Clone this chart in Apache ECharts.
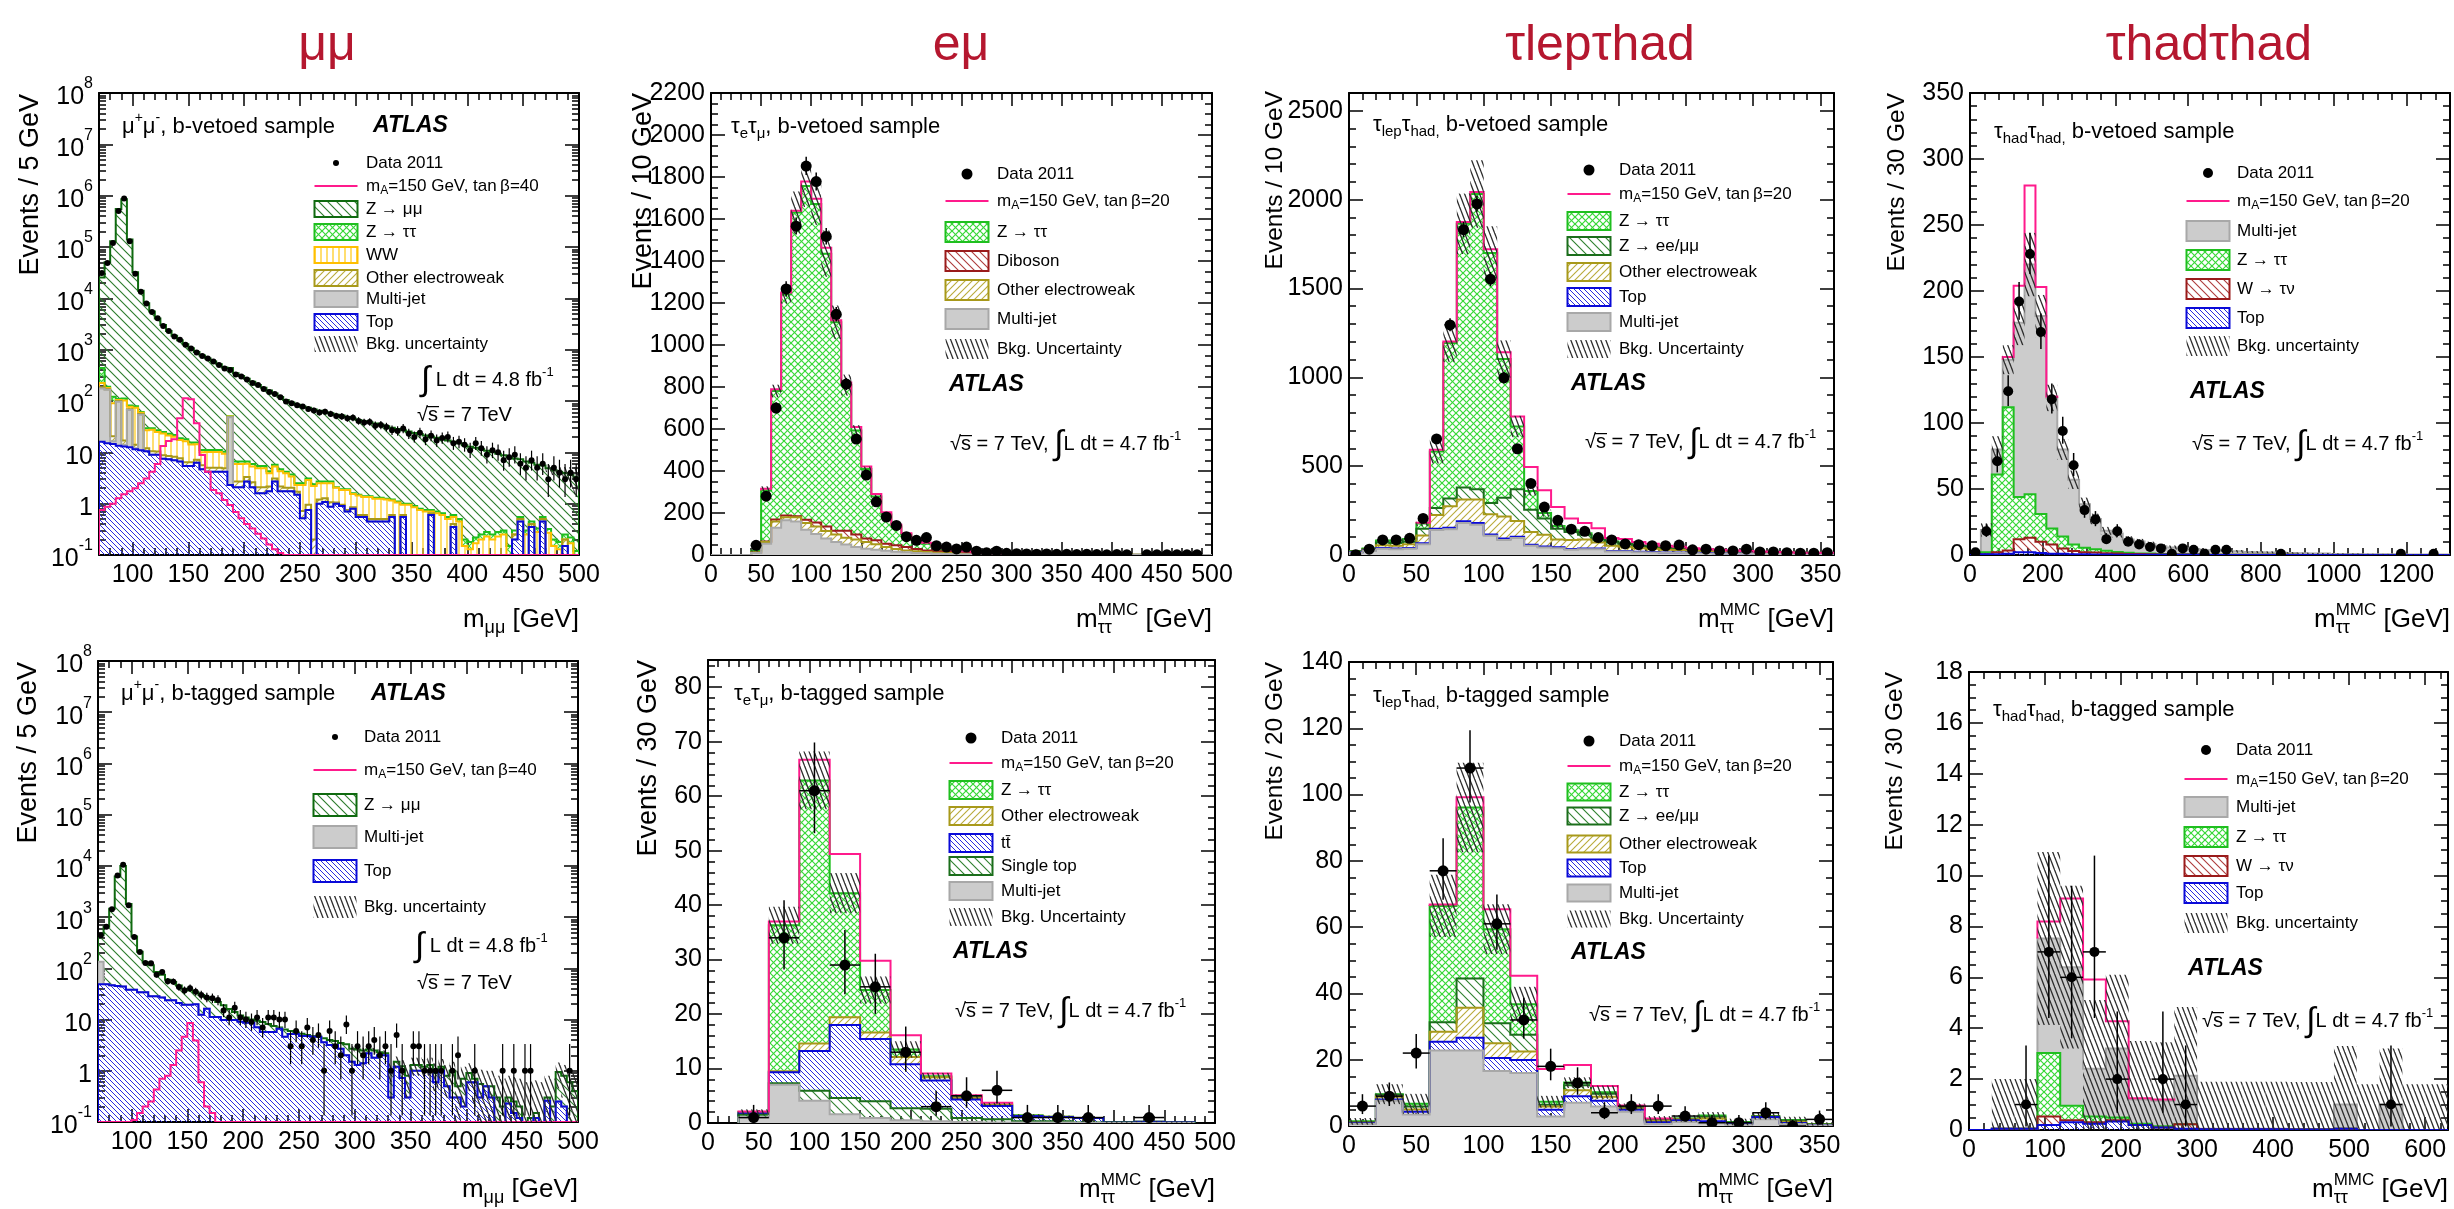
<!DOCTYPE html>
<html>
<head>
<meta charset="utf-8">
<script src="https://cdn.jsdelivr.net/npm/echarts@6/dist/echarts.min.js"></script>
<style>
  html, body { margin: 0; padding: 0; background: #ffffff; }
  #chart { width: 2454px; height: 1209px; }
</style>
</head>
<body>
<div id="chart"></div>
<script>
// ---------------------------------------------------------------------------
// Binning helpers
// ---------------------------------------------------------------------------
function binEdges(first, width, count) {
  const e = [];
  for (let i = 0; i <= count; i++) e.push(first + width * i);
  return e;
}

// ---------------------------------------------------------------------------
// Tick label values
// ---------------------------------------------------------------------------
const X_TICKS_MUMU = [100, 150, 200, 250, 300, 350, 400, 450, 500];
const Y_TICKS_LOG = [0.1, 1, 10, 100, 1e3, 1e4, 1e5, 1e6, 1e7, 1e8];
const X_TICKS_EMU = [0, 50, 100, 150, 200, 250, 300, 350, 400, 450, 500];
const Y_TICKS_EMU_BV = [0, 200, 400, 600, 800, 1000, 1200, 1400, 1600, 1800, 2000, 2200];
const Y_TICKS_EMU_BT = [0, 10, 20, 30, 40, 50, 60, 70, 80];
const X_TICKS_LH = [0, 50, 100, 150, 200, 250, 300, 350];
const Y_TICKS_LH_BV = [0, 500, 1000, 1500, 2000, 2500];
const Y_TICKS_LH_BT = [0, 20, 40, 60, 80, 100, 120, 140];
const X_TICKS_HH_BV = [0, 200, 400, 600, 800, 1000, 1200];
const Y_TICKS_HH_BV = [0, 50, 100, 150, 200, 250, 300, 350];
const X_TICKS_HH_BT = [0, 100, 200, 300, 400, 500, 600];
const Y_TICKS_HH_BT = [0, 2, 4, 6, 8, 10, 12, 14, 16, 18];

// ---------------------------------------------------------------------------
// mu mu, b-vetoed  (5 GeV bins, 70-500 GeV)
// ---------------------------------------------------------------------------
const MUMU_EDGES = binEdges(70, 5, 86);
const MUMU_BV_ZMM = [
  25000, 50000, 130000, 550000, 850000, 140000, 32000, 14000, 8000, 5500,
  4000, 3000, 2300, 1850, 1500, 1250, 1050, 890, 760, 660,
  580, 510, 440, 390, 340, 300, 265, 230, 200, 175,
  155, 135, 115, 100, 90, 82, 76, 71, 66, 62,
  58, 55, 52, 50, 47, 44, 41, 39, 37, 35,
  33, 31, 29, 27.5, 26, 24.5, 23, 22, 20.5, 19.5,
  18.5, 17.5, 16.5, 15.5, 14.5, 13.5, 12.7, 12, 11.2, 10.5,
  9.8, 9.1, 8.5, 7.9, 7.3, 6.8, 6.3, 5.8, 5.4, 5.0,
  4.6, 4.3, 4.0, 3.7, 3.4, 3.2];
const MUMU_BV_ZTT = [
  215, 10, 30, 5, 10, 5, 5, 2, 2.5, 2,
  2, 1.8, 1.7, 1.6, 1.5, 1.4, 1.3, 1.2, 1.1, 1.0,
  1.0, 1.0, 0.9, 0.8, 0.7, 0.7, 0.6, 0.6, 0.5, 0.5,
  0.4, 0.4, 0.4, 0.3, 0.3, 0.2, 0.2, 0.2, 0.2, 0.2,
  0.2, 0.2, 0.05, 0.05, 0.05, 0.05, 0.05, 0.05, 0.05, 0.05,
  0.05, 0.05, 0.05, 0.05, 0.05, 0.05, 0.05, 0.05, 0.05, 0.05,
  0.05, 0.05, 0.05, 0.05, 0.05, 0.05, 0.05, 0.05, 0.05, 0.05,
  0.05, 0.05, 0.05, 0.05, 0.05, 0.05, 0.05, 0.05, 0.05, 0.05,
  0.05, 0.05, 0.05, 0.05, 0.05, 0.05];
const MUMU_BV_WW = [
  39, 10, 70, 5, 85, 8, 60, 3, 15, 17,
  14.6, 14.4, 12.8, 12, 9.6, 10.1, 7.8, 7.1, 4.4, 5.1,
  5.1, 5.1, 4.5, 1, 3.2, 3.2, 2.7, 2.7, 2.8, 2.8,
  1.75, 2.2, 2.15, 1.85, 1.35, 0.6, 1.58, 1.95, 2.0, 1.3,
  1.22, 1.43, 1.0, 0.9, 1.1, 0.7, 0.85, 0.75, 0.85, 0.75,
  0.75, 0.7, 0.55, 1.0, 0.35, 0.9, 0.8, 0.7, 0.65, 0.05,
  0.6, 0.55, 0.45, 0.15, 0.4, 0.1, 0.08, 0.12, 0.15, 0.18,
  0.15, 0.18, 0.2, 0.05, 0, 0, 0.2, 0, 0.23, 0,
  0.22, 0.1, 0.08, 0, 0.12, 0.02];
const MUMU_BV_OEW = [
  10, 5, 4, 3, 3, 2, 2, 2, 1.5, 1.5,
  1.4, 1.3, 1.2, 1.2, 1.1, 1.0, 1.0, 0.9, 0.9, 0.8,
  0.8, 0.8, 0.7, 0.7, 0.6, 0.6, 0.6, 0.5, 0.5, 0.5,
  0.4, 0.4, 0.4, 0.3, 0.3, 0.2, 0.2, 0.2, 0.2, 0.2,
  0.2, 0.2, 0.05, 0.05, 0.05, 0.05, 0.05, 0.05, 0.05, 0.05,
  0.05, 0.05, 0.05, 0.05, 0.05, 0.05, 0.05, 0.05, 0.05, 0.05,
  0.05, 0.05, 0.05, 0.05, 0.05, 0.05, 0.05, 0.05, 0.05, 0.05,
  0.05, 0.05, 0.05, 0.05, 0.05, 0.05, 0.05, 0.05, 0.05, 0.05,
  0.05, 0.05, 0.05, 0.05, 0.05, 0.05];
const MUMU_BV_MJ = [
  160, 150, 2, 83, 1, 54.5, 0.5, 43, 0, 0,
  0, 0, 0, 0, 0, 0, 0, 0, 0, 0,
  0, 0, 0, 45.7, 0, 0, 0, 0, 0, 0,
  0, 0, 0, 0, 0, 0, 0, 0, 0, 0,
  0, 0, 0, 0, 0, 0, 0, 0, 0, 0,
  0, 0, 0, 0, 0, 0, 0, 0, 0, 0,
  0, 0, 0, 0, 0, 0, 0, 0, 0, 0,
  0, 0, 0, 0, 0, 0, 0, 0, 0, 0,
  0, 0, 0, 0, 0, 0];
const MUMU_BV_TOP = [
  16, 15, 14.5, 13.5, 13, 12.5, 11.5, 11, 10.5, 9,
  9, 7.5, 7.3, 7, 6.6, 5.4, 5.4, 6.3, 4.7, 4.2,
  4.2, 4.2, 4.2, 2.3, 2.1, 2.1, 2.7, 2.1, 1.6, 1.6,
  1.75, 2.7, 1.75, 1.75, 1.75, 1.5, 0.52, 0.75, 0, 1.0,
  1.08, 0.87, 1.0, 0.9, 0.7, 0.8, 0.55, 0.55, 0.45, 0.45,
  0.45, 0.45, 0.55, 0, 0.55, 0, 0, 0, 0, 0.6,
  0, 0, 0, 0.35, 0, 0, 0, 0, 0, 0,
  0, 0, 0, 0, 0.2, 0.45, 0, 0.35, 0, 0.45,
  0, 0, 0, 0.15, 0, 0];
const MUMU_BV_SIG = [
  0.75, 0.87, 1.0, 1.27, 1.52, 1.75, 2.0, 2.5, 3.1, 4.2,
  5.9, 13.3, 16.7, 18, 46, 113, 108, 37, 8.9, 4.2,
  1.84, 1.6, 1.18, 0.94, 0.69, 0.52, 0.4, 0.33, 0.26, 0.21,
  0.16, 0.13, 0.11, 0, 0, 0, 0, 0, 0, 0,
  0, 0, 0, 0, 0, 0, 0, 0, 0, 0,
  0, 0, 0, 0, 0, 0, 0, 0, 0, 0,
  0, 0, 0, 0, 0, 0, 0, 0, 0, 0,
  0, 0, 0, 0, 0, 0, 0, 0, 0, 0,
  0, 0, 0, 0, 0, 0];
const MUMU_BV_UNC = [
  0, 0, 0, 0, 0, 0, 0, 0, 0, 0,
  0, 0, 0, 0, 0, 0, 0, 0, 0, 0,
  0, 0, 0, 0, 0, 0, 0, 0, 0, 0,
  0, 0, 0, 0, 0, 0, 0, 0, 0, 0,
  0, 0, 0, 0, 0, 0, 0, 0, 0, 0,
  0, 0, 0, 0, 0, 0, 0, 0, 0, 0,
  0, 0, 0, 0, 0, 0, 0, 0, 0, 0,
  0, 0, 0, 0, 0, 0, 0, 0, 0, 0,
  0.8, 0.9, 1.0, 1.2, 1.5, 1.8];
const MUMU_BV_DATA = [
  31000, 49000, 120000, 500000, 880000, 130000, 30000, 13500, 7900, 5400,
  4100, 2900, 2300, 1800, 1560, 1240, 1050, 880, 750, 670,
  590, 500, 430, 400, 330, 300, 262, 223, 205, 172,
  150, 137, 118, 98, 90, 83, 78, 70, 65, 60,
  62, 56, 51, 50, 46, 47, 41, 38, 39, 33,
  34, 31, 27, 26, 29, 23, 20, 24, 18, 21,
  17, 19, 20, 15, 16, 14, 11, 15, 12, 9,
  11, 10, 7, 8, 9, 6, 5, 7, 5, 6,
  3, 5, 4, 3, 4, 3];

// ---------------------------------------------------------------------------
// mu mu, b-tagged  (5 GeV bins, 70-500 GeV)
// ---------------------------------------------------------------------------
const MUMU_BT_ZMM = [
  306, 601, 1403, 6155, 9956, 1762, 382, 176, 96, 86.5,
  56.5, 48, 36.3, 30.3, 25, 20.5, 17.5, 14, 17.6, 10.7,
  13.8, 10.8, 9.2, 6.2, 4.2, 2.9, 2.3, 1.3, 2.4, 3.3,
  2.5, 1.8, 0.4, 1.8, 0.8, 0.4, 0.5, 0.2, 0.2, 0,
  0.7, 0.8, 0.6, 0.8, 1.3, 1.2, 1.3, 1.1, 0.4, 0.7,
  0.3, 0.2, 0.7, 0.3, 0.5, 0.5, 0.3, 0.3, 0.2, 0.3,
  0.3, 0.2, 0.3, 0.7, 0.2, 0.5, 0.3, 0.1, 0.25, 0,
  0.2, 0.3, 0.2, 0.07, 0.1, 0.08, 0.1, 0.12, 0.03, 0.1,
  0.04, 0.2, 0.7, 0.6, 0.6, 0.4];
const MUMU_BT_MJ = [
  85, 0, 0, 0, 0, 0, 0, 0, 0, 0,
  0, 0, 0, 0, 0, 0, 0, 0, 0, 0,
  0, 0, 0, 0, 0, 0, 0, 0, 0, 0,
  0, 0, 0, 0, 0, 0, 0, 0, 0, 0,
  0, 0, 0, 0, 0, 0, 0, 0, 0, 0,
  0, 0, 0, 0, 0, 0, 0, 0, 0, 0,
  0, 0, 0, 0, 0, 0, 0, 0, 0, 0,
  0, 0, 0, 0, 0, 0, 0, 0, 0, 0,
  0, 0, 0, 0, 0, 0];
const MUMU_BT_TOP = [
  49, 49, 47, 45, 44, 38, 38, 34, 34, 28.5,
  28.5, 27, 23.7, 23.7, 21, 19.5, 19.5, 20, 12.4, 16.3,
  11.2, 11.2, 9.8, 9.8, 9.8, 9.1, 8.7, 8.7, 7.1, 5.7,
  5.7, 5.7, 6.6, 4.6, 5.2, 5.2, 4.8, 4.8, 4.6, 4.6,
  3.6, 3.2, 3.2, 2.7, 2.0, 1.5, 1.3, 1.4, 2.2, 1.8,
  2.0, 2.0, 0.3, 1.2, 0.72, 0.3, 1.0, 1.0, 1.0, 1.0,
  0.6, 1.0, 0.5, 0.3, 0.3, 0.2, 0.6, 0.6, 0.3, 0.5,
  0.3, 0, 0, 0.23, 0.15, 0.12, 0, 0, 0.12, 0,
  0.26, 0, 0.25, 0.2, 0, 0];
const MUMU_BT_SIG = [
  0, 0, 0, 0, 0, 0, 0.11, 0.15, 0.2, 0.25,
  0.43, 0.7, 0.8, 1.3, 2.5, 4.6, 8.6, 3.9, 0.6, 0.2,
  0.15, 0, 0, 0, 0, 0, 0, 0, 0, 0,
  0, 0, 0, 0, 0, 0, 0, 0, 0, 0,
  0, 0, 0, 0, 0, 0, 0, 0, 0, 0,
  0, 0, 0, 0, 0, 0, 0, 0, 0, 0,
  0, 0, 0, 0, 0, 0, 0, 0, 0, 0,
  0, 0, 0, 0, 0, 0, 0, 0, 0, 0,
  0, 0, 0, 0, 0, 0];
const MUMU_BT_UNC = [
  0, 0, 0, 0, 0, 0, 0, 0, 0, 0,
  0, 0, 0, 0, 0, 0, 0, 0, 0, 0,
  0, 0, 0, 0, 0, 0, 0, 0, 0, 0,
  0, 0, 0, 0, 0, 0, 0, 0, 0, 0,
  0, 0, 0, 0, 0, 0.3, 0.3, 0.3, 0.3, 0.3,
  0.3, 0.3, 0.4, 0.4, 0.4, 0.5, 0.5, 0.5, 0.5, 0.5,
  0.5, 0.5, 0.5, 0.5, 0.5, 0.5, 0.5, 0.5, 0.5, 0.5,
  0.5, 0.5, 0.5, 0.5, 0.5, 0.5, 0.5, 0.5, 0.5, 0.5,
  0.5, 0.5, 0.5, 0.5, 0.5, 0.5];
const MUMU_BT_DATA = [
  442, 645, 1420, 6500, 10500, 1700, 408, 208, 127, 126,
  75, 85, 56, 55, 43, 37, 41, 35, 30, 27,
  26, 24, 15, 11, 17, 11, 10, 9, 11, 7,
  11, 11, 10, 10, 3, 6, 3, 7, 4, 5,
  1, 6, 3, 2, 8, 1, 3, 2, 3, 4,
  2, 3, 1, 5, 1, null, 3, 3, 1, 1,
  1, 1, null, 1, 2, null, null, 1, null, null,
  null, null, 1, null, 1, null, 1, 1, null, null,
  null, null, null, null, 1, null];

// ---------------------------------------------------------------------------
// e mu, b-vetoed  (10 GeV bins, 0-500 GeV)
// ---------------------------------------------------------------------------
const EMU_BV_EDGES = binEdges(0, 10, 50);
const EMU_BV_MJ = [
  0, 0, 0, 0, 10, 54, 130, 165, 160, 120,
  100, 78, 62, 50, 38, 30, 25, 20, 16, 13,
  10, 8, 6, 5, 4, 3, 3, 2, 2, 1.5,
  1.2, 1, 1, 0.8, 0.8, 0.6, 0.6, 0.5, 0.5, 0.4,
  0.4, 0.3, 0.3, 0.3, 0.2, 0.2, 0.2, 0.2, 0.1, 0.1];
const EMU_BV_OEW = [
  0, 0, 0, 0, 2, 8, 30, 15, 20, 32,
  36, 36, 36, 32, 36, 32, 26, 18, 13, 8,
  8, 6, 5, 4, 3, 3, 2, 2, 1.5, 1.2,
  1, 1, 0.8, 0.7, 0.6, 0.5, 0.5, 0.4, 0.4, 0.3,
  0.3, 0.3, 0.2, 0.2, 0.2, 0.2, 0.1, 0.1, 0.1, 0.1];
const EMU_BV_DIB = [
  0, 0, 0, 0, 0, 2, 9, 8, 5, 16,
  19, 22, 18, 34, 24, 16, 19, 16, 17, 17,
  11, 8, 7, 6, 5, 4, 3, 3, 2.5, 2,
  2, 1.5, 1.5, 1.2, 1, 1, 0.8, 0.8, 0.6, 0.6,
  0.5, 0.5, 0.4, 0.4, 0.3, 0.3, 0.3, 0.2, 0.2, 0.2];
const EMU_BV_ZTT = [
  0, 0, 0, 0, 8, 243, 612, 1054, 1446, 1589,
  1517, 1299, 992, 693, 495, 331, 208, 139, 90, 60,
  41, 32, 20, 14, 9, 6, 3, 2, 1, 1,
  0.5, 0.5, 0.4, 0.3, 0.2, 0.2, 0.1, 0.1, 0.1, 0.1,
  0, 0, 0, 0, 0, 0, 0, 0, 0, 0];
const EMU_BV_SIG = [
  0, 0, 0, 0, 0, 8, 8, 8, 8, 21,
  25, 28, 10, 13, 17, 13, 13, 11, 8, 6,
  5, 4, 3, 3, 2, 2, 1.5, 1, 1, 1,
  0, 0, 0, 0, 0, 0, 0, 0, 0, 0,
  0, 0, 0, 0, 0, 0, 0, 0, 0, 0];
const EMU_BV_UNC = [
  0, 0, 0, 0, 3, 20, 30, 45, 100, 100,
  100, 110, 80, 50, 25, 12, 8, 5, 4, 3,
  2, 2, 1, 1, 1, 1, 1, 0.5, 0.5, 0.5,
  0.5, 0.3, 0.3, 0.3, 0.3, 0.3, 0.2, 0.2, 0.2, 0.2,
  0.2, 0.2, 0.1, 0.1, 0.1, 0.1, 0.1, 0.1, 0.1, 0.1];
const EMU_BV_DATA = [
  null, null, null, null, 46, 280, 700, 1267, 1566, 1852,
  1778, 1517, 1146, 814, 552, 381, 253, 181, 141, 87,
  70, 83, 44, 38, 29, 38, 18, 11, 18, 8,
  6, 5, 4, 5, 3, 3, 2, 3, 2, 1,
  2, 1, null, 1, 1, 1, 1, 1, 1, null];

// ---------------------------------------------------------------------------
// e mu, b-tagged  (30 GeV bins from 30 GeV)
// ---------------------------------------------------------------------------
const EMU_BT_EDGES = binEdges(30, 30, 15);
const EMU_BT_MJ  = [1.0, 7.0, 4.1, 1.6, 0.9, 0.5, 0.3, 0.2, 0.1, 0.1, 0.1, 0, 0, 0, 0];
const EMU_BT_ST  = [0.5, 0.3, 1.8, 3.0, 3.1, 2.2, 2.3, 0.7, 0.6, 0.2, 0.2, 0.1, 0.1, 0.05, 0.05];
const EMU_BT_TT  = [0.3, 2.0, 7.3, 13.4, 11.4, 8.1, 5.2, 3.4, 2.4, 1.0, 0.8, 0.8, 0.05, 0.2, 0.1];
const EMU_BT_OEW = [0.1, 0.2, 1.4, 1.4, 1.2, 1.3, 0.6, 0.3, 0.2, 0.05, 0.05, 0, 0, 0, 0];
const EMU_BT_ZTT = [0.1, 26.8, 48.3, 22.8, 7.8, 1.4, 0.2, 0.2, 0.1, 0.05, 0, 0, 0, 0, 0];
const EMU_BT_SIG = [0.1, 0.7, 3.8, 7.2, 5.4, 2.6, 0.5, 0.3, 0.3, 0, 0, 0, 0, 0, 0];
const EMU_BT_UNC = [0.5, 3.4, 5.3, 3.7, 2.5, 1.5, 0.6, 0.4, 0.3, 0.2, 0.2, 0.1, 0.1, 0.1, 0.1];
const EMU_BT_DATA = [1, 34, 61, 29, 25, 13, 3, 5, 6, 1, 1, 1, null, 1, null];

// ---------------------------------------------------------------------------
// tau_lep tau_had, b-vetoed  (10 GeV bins, 0-360 GeV)
// ---------------------------------------------------------------------------
const LH_BV_EDGES = binEdges(0, 10, 36);
const LH_BV_MJ = [
  13, 22, 35, 32, 35, 60, 140, 145, 180, 170,
  108, 85, 95, 52, 42, 38, 30, 33, 33, 20,
  20, 15, 14, 12, 12, 10, 9, 8, 7, 7,
  6, 5, 5, 4, 4, 4];
const LH_BV_TOP = [
  2, 3, 5, 5, 5, 6, 8, 8, 10, 10,
  8, 8, 8, 6, 6, 5, 4, 4, 4, 3,
  3, 3, 3, 2, 2, 2, 2, 2, 1, 1,
  1, 1, 1, 1, 1, 1];
const LH_BV_OEW = [
  3, 5, 15, 15, 20, 44, 77, 121, 122, 132,
  113, 123, 88, 71, 66, 44, 51, 50, 34, 29,
  23, 20, 18, 16, 14, 12, 10, 9, 8, 7,
  6, 5, 5, 4, 4, 3];
const LH_BV_ZEE = [
  2, 4, 15, 15, 15, 38, 39, 44, 68, 58,
  64, 106, 179, 125, 92, 61, 44, 27, 16, 19,
  16, 12, 10, 9, 8, 6, 6, 5, 4, 4,
  3, 3, 3, 2, 2, 2];
const LH_BV_ZTT = [
  3, 3, 11, 14, 15, 29, 318, 875, 1484, 1662,
  1407, 781, 353, 106, 30, 15, 10, 8, 6, 5,
  4, 3, 3, 3, 2, 2, 2, 2, 2, 1,
  1, 1, 1, 1, 1, 1];
const LH_BV_SIG = [
  0, 0, 0, 0, 0, 5, 10, 8, 10, 11,
  20, 38, 57, 135, 128, 107, 67, 58, 57, 20,
  24, 20, 15, 10, 8, 6, 5, 3, 3, 2,
  2, 2, 1, 1, 1, 1];
const LH_BV_UNC = [
  2, 3, 8, 8, 8, 15, 67, 106, 170, 190,
  150, 105, 60, 25, 20, 15, 10, 8, 6, 5,
  4, 4, 3, 3, 3, 2, 2, 2, 2, 2,
  1, 1, 1, 1, 1, 1];
const LH_BV_DATA = [
  2, 33, 85, 85, 94, 206, 653, 1295, 1831, 1976,
  1552, 997, 598, 403, 270, 195, 145, 133, 98, 85,
  62, 58, 52, 52, 56, 29, 33, 23, 23, 33,
  17, 17, 13, 10, 10, 13];

// ---------------------------------------------------------------------------
// tau_lep tau_had, b-tagged  (20 GeV bins, 0-360 GeV)
// ---------------------------------------------------------------------------
const LH_BT_EDGES = binEdges(0, 20, 18);
const LH_BT_MJ  = [0.6, 7.6, 3.5, 22.8, 22.8, 16.6, 16.0, 2.9, 7.0, 5.9, 4.3, 0.6, 1.2, 0.8, 0.4, 2.0, 0.6, 0.2];
const LH_BT_TOP = [0.2, 0.4, 0.8, 2.6, 3.8, 3.9, 3.9, 2.0, 2.0, 1.7, 0.6, 0.5, 0.5, 0.6, 0.3, 0.7, 0.3, 0.1];
const LH_BT_OEW = [0.2, 0.8, 0.7, 3.0, 9.1, 4.5, 2.6, 1.0, 1.8, 1.2, 0.4, 0.4, 0.3, 0.9, 0.2, 0.1, 0.4, 0.1];
const LH_BT_ZEE = [0.2, 0.6, 0.9, 2.9, 8.8, 6.0, 5.0, 0.5, 1.5, 0.9, 0.4, 0.3, 0.2, 0.5, 0.1, 0.1, 0.3, 0.1];
const LH_BT_ZTT = [0.2, 0.2, 0.8, 35.1, 51.6, 28.4, 9.2, 0.9, 0.8, 0.5, 0.1, 0.2, 0.1, 0.4, 0.2, 0.1, 0.2, 0.1];
const LH_BT_SIG = [0, 0, 0, 0.4, 3.1, 6, 8.6, 9.9, 5.3, 1.9, 0.4, 0.3, 0, 0, 0, 0, 0, 0];
const LH_BT_UNC = [1, 3, 3, 9.4, 13.5, 7.5, 5.3, 1.8, 1.6, 2, 1, 1, 1, 1, 1, 1, 1, 0.5];
const LH_BT_DATA = [6, 9, 22, 77, 108, 61, 32, 18, 13, 4, 6, 6, 3, 1, 1, 4, 0, 2];

// ---------------------------------------------------------------------------
// tau_had tau_had, b-vetoed  (30 GeV bins, 0-1320 GeV)
// ---------------------------------------------------------------------------
const HH_BV_EDGES = binEdges(0, 30, 44);
const HH_BV_TOP = [
  0, 0.5, 0.5, 1, 2, 2, 1.5, 1, 1, 0.5,
  0.5, 0.3, 0.3, 0.2, 0.2, 0.2, 0.1, 0.1, 0.1, 0.1,
  0.1, 0.05, 0.05, 0.05, 0.05, 0.05, 0.05, 0.05, 0.05, 0.05,
  0.05, 0.05, 0.05, 0.05, 0.05, 0.05, 0.05, 0.05, 0.05, 0.05,
  0.05, 0.05, 0.05, 0.05];
const HH_BV_W = [
  0, 0, 1.5, 2.5, 10, 11, 8.5, 7, 4, 2.5,
  1.5, 1.5, 1, 1, 0.5, 0.5, 0.5, 0.3, 0.3, 0.2,
  0.2, 0.1, 0.1, 0.1, 0.1, 0.1, 0.05, 0.05, 0.05, 0.05,
  0, 0, 0, 0, 0, 0, 0, 0, 0, 0,
  0, 0, 0, 0];
const HH_BV_ZTT = [
  0, 1.5, 59, 108.5, 32, 33, 21, 12, 9, 5,
  3.5, 2.5, 2, 1, 1, 0.5, 0.5, 0.3, 0.3, 0.2,
  0.2, 0.1, 0.1, 0.1, 0.1, 0.05, 0.05, 0.05, 0.05, 0.05,
  0, 0, 0, 0, 0, 0, 0, 0, 0, 0,
  0, 0, 0, 0];
const HH_BV_MJ = [
  0, 17, 19, 36, 132, 174, 150, 99, 66, 49,
  33, 23, 15, 14, 10, 9, 7, 6, 5, 4.5,
  4, 3.5, 3, 3, 2.5, 2, 2, 1.8, 1.6, 1.4,
  1.2, 1, 1, 0.8, 0.8, 0.7, 0.6, 0.5, 0.5, 0.4,
  0.4, 0.3, 0.3, 0.3];
const HH_BV_SIG = [
  0, 0, 0, 2, 28, 60, 22, 1, 0, 0,
  0, 0, 0, 0, 0, 0, 0, 0, 0, 0,
  0, 0, 0, 0, 0, 0, 0, 0, 0, 0,
  0, 0, 0, 0, 0, 0, 0, 0, 0, 0,
  0, 0, 0, 0];
const HH_BV_UNC = [
  0, 5, 10, 11, 17, 24, 16, 10, 8, 7,
  5, 4, 3, 3, 2.5, 2, 2, 1.5, 1.5, 1.5,
  1.2, 1, 1, 1, 1, 0.8, 0.8, 0.8, 0.6, 0.6,
  0.5, 0.5, 0.5, 0.4, 0.4, 0.4, 0.3, 0.3, 0.3, 0.3,
  0.3, 0.2, 0.2, 0.2];
const HH_BV_DATA = [
  2, 18, 71, 124, 192, 228, 169, 118, 94, 68,
  34, 27, 12, 18, 10, 8, 6, 5, 1, 5,
  4, 1, 4, 4, null, null, null, null, 1, null,
  null, null, null, null, null, null, null, null, null, 1,
  null, null, 1, null];

// ---------------------------------------------------------------------------
// tau_had tau_had, b-tagged  (30 GeV bins, 0-630 GeV)
// ---------------------------------------------------------------------------
const HH_BT_EDGES = binEdges(0, 30, 21);
const HH_BT_TOP = [0, 0.05, 0.05, 0.2, 0.3, 0.25, 0.33, 0.2, 0.1, 0.05, 0.03, 0.03, 0.03, 0.03, 0.02, 0.02, 0.05, 0, 0, 0, 0];
const HH_BT_W   = [0, 0, 0, 0.33, 0.08, 0.05, 0.05, 0, 0, 0.18, 0, 0, 0, 0, 0, 0, 0, 0, 0, 0, 0];
const HH_BT_ZTT = [0, 0, 0, 2.5, 0.57, 0.23, 0.11, 0.05, 0.05, 0, 0, 0, 0, 0, 0, 0, 0, 0, 0, 0, 0];
const HH_BT_MJ  = [0, 0, 0, 4.5, 5.45, 1.88, 2.71, 0.95, 1.0, 1.9, 0.02, 0.02, 0.02, 0.02, 0.02, 0.02, 0.95, 0, 1.0, 0, 0];
const HH_BT_SIG = [0, 0, 0, 0.66, 2.7, 3.5, 1.07, 0.05, 0.05, 0, 0, 0, 0, 0, 0, 0, 0, 0, 0, 0, 0];
const HH_BT_UNC = [0, 1.95, 1.95, 3.4, 3.2, 2.7, 2.9, 2.3, 2.3, 2.7, 1.85, 1.85, 1.85, 1.85, 1.85, 1.85, 2.3, 1.8, 2.2, 1.8, 1.8];
const HH_BT_DATA = [null, null, 1, 7, 6, 7, 2, null, 2, 1, null, null, null, null, null, null, null, null, 1, null, null];

// ---------------------------------------------------------------------------
// Styling
// ---------------------------------------------------------------------------
const FONT = '"Liberation Sans", Arial, Helvetica, sans-serif';
const TITLE_COLOR = '#b5172f';
const SIG_COLOR = '#ff1a8c';

function hatch(kind, color, step, lw) {
  const c = document.createElement('canvas');
  const w = step, h = kind === 'steep' ? Math.round(step * 2.6) : step;
  c.width = w; c.height = h;
  const g = c.getContext('2d');
  g.strokeStyle = color; g.lineWidth = lw; g.lineCap = 'square';
  const seg = (x0, y0, x1, y1) => { g.beginPath(); g.moveTo(x0, y0); g.lineTo(x1, y1); g.stroke(); };
  if (kind === 'back' || kind === 'cross' || kind === 'steep') {
    for (let k = -1; k <= 1; k++) seg(k * w, 0, k * w + w, h);
  }
  if (kind === 'fwd' || kind === 'cross') {
    for (let k = -1; k <= 1; k++) seg(k * w, h, k * w + w, 0);
  }
  if (kind === 'vert') seg(w / 2, 0, w / 2, h);
  return { image: c, repeat: 'repeat' };
}

const STYLE = {
  zmm: { stroke: '#0f6a0f', fill: hatch('back', '#2a7a2a', 9, 1.1) },
  ztt: { stroke: '#1fbf1f', fill: hatch('cross', '#38d838', 7, 1.2) },
  ww:  { stroke: '#ffbf00', fill: hatch('vert', '#ffcc22', 6, 1.3) },
  oew: { stroke: '#a8991a', fill: hatch('fwd', '#b8aa3a', 7, 1.1) },
  mj:  { stroke: '#a8a8a8', fill: '#cccccc' },
  top: { stroke: '#0a0ad8', fill: hatch('back', '#2b2be0', 5, 1.0) },
  tt:  { stroke: '#0a0ad8', fill: hatch('back', '#2b2be0', 5, 1.0) },
  dib: { stroke: '#9a1b1b', fill: hatch('back', '#ad3a3a', 8, 1.1) },
  wtn: { stroke: '#9a1b1b', fill: hatch('back', '#ad3a3a', 8, 1.1) },
  st:  { stroke: '#1b6e1b', fill: hatch('back', '#2d7f2d', 9, 1.1) },
  zee: { stroke: '#1b6e1b', fill: hatch('back', '#2d7f2d', 9, 1.1) }
};
const UNC_FILL = hatch('steep', '#2a2a2a', 5, 1.3);

const LEGEND_LABELS = {
  data: ['Data 2011'],
  sig40: ['m', { t: 'A', sub: true }, '=150 GeV, tan\u2009\u03b2=40'],
  sig20: ['m', { t: 'A', sub: true }, '=150 GeV, tan\u2009\u03b2=20'],
  zmm: ['Z \u2192 \u03bc\u03bc'],
  ztt: ['Z \u2192 \u03c4\u03c4'],
  ww: ['WW'],
  oew: ['Other electroweak'],
  mj: ['Multi-jet'],
  top: ['Top'],
  dib: ['Diboson'],
  zee: ['Z \u2192 ee/\u03bc\u03bc'],
  wtn: ['W \u2192 \u03c4\u03bd'],
  tt: ['tt\u0304'],
  st: ['Single top'],
  uncL: ['Bkg. uncertainty'],
  uncU: ['Bkg. Uncertainty']
};

const SQRT_S = ['\u221a', { t: 's', over: true }, ' = 7 TeV'];
const SQRT_S_LUMI = ['\u221a', { t: 's', over: true }, ' = 7 TeV, ', { t: '\u222b', big: true }, 'L dt = 4.7 fb', { t: '-1', sup: true }];

// ---------------------------------------------------------------------------
// Panel definitions (layout + which arrays they draw)
// ---------------------------------------------------------------------------
const PANELS = [
  { grid: [99, 93, 480, 462],
    x: { min: 70, max: 500, major: X_TICKS_MUMU, minor: 10 },
    y: { log: true, min: 0.1, max: 1e8, major: Y_TICKS_LOG },
    edges: MUMU_EDGES,
    stack: [['top', MUMU_BV_TOP], ['mj', MUMU_BV_MJ], ['oew', MUMU_BV_OEW], ['ww', MUMU_BV_WW], ['ztt', MUMU_BV_ZTT], ['zmm', MUMU_BV_ZMM]],
    sig: MUMU_BV_SIG, sigStacked: false, unc: MUMU_BV_UNC, data: MUMU_BV_DATA,
    marker: 6, errW: 1.2, xerr: false,
    yTitle: { text: 'Events / 5 GeV', size: 27, x: 31, top: 94 },
    xTitle: 'mumu', xTitleY: 620,
    sample: { x: 122, y: 127, parts: ['\u03bc', { t: '+', sup: true }, '\u03bc', { t: '-', sup: true }, ', b-vetoed sample'] },
    atlas: { x: 373, y: 126 },
    lumi: [{ x: 421, y: 380, parts: [{ t: '\u222b', big: true }, ' L dt = 4.8 fb', { t: '-1', sup: true }] },
           { x: 417, y: 415, parts: SQRT_S }],
    legend: { cx: 336, tx: 366, sw: 43, sh: 16, rows: [163, 186, 209, 232, 255, 278, 299, 322, 344],
              items: ['data', 'sig40', 'zmm', 'ztt', 'ww', 'oew', 'mj', 'top', 'uncL'] } },

  { grid: [711, 93, 501, 462],
    x: { min: 0, max: 500, major: X_TICKS_EMU, minor: 10 },
    y: { log: false, min: 0, max: 2200, major: Y_TICKS_EMU_BV, minor: 50 },
    edges: EMU_BV_EDGES,
    stack: [['mj', EMU_BV_MJ], ['oew', EMU_BV_OEW], ['dib', EMU_BV_DIB], ['ztt', EMU_BV_ZTT]],
    sig: EMU_BV_SIG, sigStacked: true, unc: EMU_BV_UNC, data: EMU_BV_DATA,
    marker: 11, errW: 1.5, xerr: false,
    yTitle: { text: 'Events / 10 GeV', size: 27, x: 644, top: 93 },
    xTitle: 'mmc', xTitleY: 620,
    sample: { x: 731, y: 127, parts: ['\u03c4', { t: 'e', sub: true }, '\u03c4', { t: '\u03bc', sub: true }, ', b-vetoed sample'] },
    atlas: { x: 949, y: 385 },
    lumi: [{ x: 950, y: 444, parts: SQRT_S_LUMI }],
    legend: { cx: 967, tx: 997, sw: 43, sh: 20, rows: [174, 201, 232, 261, 290, 319, 349],
              items: ['data', 'sig20', 'ztt', 'dib', 'oew', 'mj', 'uncU'] } },

  { grid: [1349, 93, 485, 462],
    x: { min: 0, max: 360, major: X_TICKS_LH, minor: 10 },
    y: { log: false, min: 0, max: 2600, major: Y_TICKS_LH_BV, minor: 100 },
    edges: LH_BV_EDGES,
    stack: [['mj', LH_BV_MJ], ['top', LH_BV_TOP], ['oew', LH_BV_OEW], ['zee', LH_BV_ZEE], ['ztt', LH_BV_ZTT]],
    sig: LH_BV_SIG, sigStacked: true, unc: LH_BV_UNC, data: LH_BV_DATA,
    marker: 11, errW: 1.5, xerr: false,
    yTitle: { text: 'Events / 10 GeV', size: 24.5, x: 1275, top: 91 },
    xTitle: 'mmc', xTitleY: 620,
    sample: { x: 1373, y: 125, parts: ['\u03c4', { t: 'lep', sub: true }, '\u03c4', { t: 'had', sub: true }, { t: ',', sub: true }, ' b-vetoed sample'] },
    atlas: { x: 1571, y: 384 },
    lumi: [{ x: 1585, y: 442, parts: SQRT_S_LUMI }],
    legend: { cx: 1589, tx: 1619, sw: 43, sh: 18, rows: [170, 194, 221, 246, 272, 297, 322, 349],
              items: ['data', 'sig20', 'ztt', 'zee', 'oew', 'top', 'mj', 'uncU'] } },

  { grid: [1970, 93, 480, 462],
    x: { min: 0, max: 1320, major: X_TICKS_HH_BV, minor: 40 },
    y: { log: false, min: 0, max: 350, major: Y_TICKS_HH_BV, minor: 10 },
    edges: HH_BV_EDGES,
    stack: [['top', HH_BV_TOP], ['wtn', HH_BV_W], ['ztt', HH_BV_ZTT], ['mj', HH_BV_MJ]],
    sig: HH_BV_SIG, sigStacked: true, unc: HH_BV_UNC, data: HH_BV_DATA,
    marker: 10, errW: 1.5, xerr: false,
    yTitle: { text: 'Events / 30 GeV', size: 24.5, x: 1897, top: 93 },
    xTitle: 'mmc', xTitleY: 620,
    sample: { x: 1994, y: 132, parts: ['\u03c4', { t: 'had', sub: true }, '\u03c4', { t: 'had', sub: true }, { t: ',', sub: true }, ' b-vetoed sample'] },
    atlas: { x: 2190, y: 392 },
    lumi: [{ x: 2192, y: 444, parts: SQRT_S_LUMI }],
    legend: { cx: 2208, tx: 2237, sw: 43, sh: 20, rows: [173, 201, 231, 260, 289, 318, 346],
              items: ['data', 'sig20', 'mj', 'ztt', 'wtn', 'top', 'uncL'] } },

  { grid: [98, 661, 480, 461],
    x: { min: 70, max: 500, major: X_TICKS_MUMU, minor: 10 },
    y: { log: true, min: 0.1, max: 1e8, major: Y_TICKS_LOG },
    edges: MUMU_EDGES,
    stack: [['top', MUMU_BT_TOP], ['mj', MUMU_BT_MJ], ['zmm', MUMU_BT_ZMM]],
    sig: MUMU_BT_SIG, sigStacked: false, unc: MUMU_BT_UNC, data: MUMU_BT_DATA,
    marker: 6, errW: 1.2, xerr: false,
    yTitle: { text: 'Events / 5 GeV', size: 27, x: 29, top: 662 },
    xTitle: 'mumu', xTitleY: 1190,
    sample: { x: 121, y: 694, parts: ['\u03bc', { t: '+', sup: true }, '\u03bc', { t: '-', sup: true }, ', b-tagged sample'] },
    atlas: { x: 371, y: 694 },
    lumi: [{ x: 415, y: 946, parts: [{ t: '\u222b', big: true }, ' L dt = 4.8 fb', { t: '-1', sup: true }] },
           { x: 417, y: 983, parts: SQRT_S }],
    legend: { cx: 335, tx: 364, sw: 43, sh: 22, rows: [737, 770, 805, 837, 871, 907],
              items: ['data', 'sig40', 'zmm', 'mj', 'top', 'uncL'] } },

  { grid: [708, 660, 507, 463],
    x: { min: 0, max: 500, major: X_TICKS_EMU, minor: 10 },
    y: { log: false, min: 0, max: 85, major: Y_TICKS_EMU_BT, minor: 2 },
    edges: EMU_BT_EDGES,
    stack: [['mj', EMU_BT_MJ], ['st', EMU_BT_ST], ['tt', EMU_BT_TT], ['oew', EMU_BT_OEW], ['ztt', EMU_BT_ZTT]],
    sig: EMU_BT_SIG, sigStacked: true, unc: EMU_BT_UNC, data: EMU_BT_DATA,
    marker: 11, errW: 1.5, xerr: true,
    yTitle: { text: 'Events / 30 GeV', size: 27, x: 649, top: 660 },
    xTitle: 'mmc', xTitleY: 1190,
    sample: { x: 734, y: 694, parts: ['\u03c4', { t: 'e', sub: true }, '\u03c4', { t: '\u03bc', sub: true }, ', b-tagged sample'] },
    atlas: { x: 953, y: 952 },
    lumi: [{ x: 955, y: 1011, parts: SQRT_S_LUMI }],
    legend: { cx: 971, tx: 1001, sw: 43, sh: 18, rows: [738, 763, 790, 816, 843, 866, 891, 917],
              items: ['data', 'sig20', 'ztt', 'oew', 'tt', 'st', 'mj', 'uncU'] } },

  { grid: [1349, 662, 484, 464],
    x: { min: 0, max: 360, major: X_TICKS_LH, minor: 10 },
    y: { log: false, min: 0, max: 140, major: Y_TICKS_LH_BT, minor: 5 },
    edges: LH_BT_EDGES,
    stack: [['mj', LH_BT_MJ], ['top', LH_BT_TOP], ['oew', LH_BT_OEW], ['zee', LH_BT_ZEE], ['ztt', LH_BT_ZTT]],
    sig: LH_BT_SIG, sigStacked: true, unc: LH_BT_UNC, data: LH_BT_DATA,
    marker: 11, errW: 1.5, xerr: true,
    yTitle: { text: 'Events / 20 GeV', size: 24.5, x: 1275, top: 662 },
    xTitle: 'mmc', xTitleY: 1190,
    sample: { x: 1373, y: 696, parts: ['\u03c4', { t: 'lep', sub: true }, '\u03c4', { t: 'had', sub: true }, { t: ',', sub: true }, ' b-tagged sample'] },
    atlas: { x: 1571, y: 953 },
    lumi: [{ x: 1589, y: 1015, parts: SQRT_S_LUMI }],
    legend: { cx: 1589, tx: 1619, sw: 43, sh: 17, rows: [741, 766, 792, 816, 844, 868, 893, 919],
              items: ['data', 'sig20', 'ztt', 'zee', 'oew', 'top', 'mj', 'uncU'] } },

  { grid: [1969, 672, 479, 458],
    x: { min: 0, max: 630, major: X_TICKS_HH_BT, minor: 20 },
    y: { log: false, min: 0, max: 18, major: Y_TICKS_HH_BT, minor: 0.5 },
    edges: HH_BT_EDGES,
    stack: [['top', HH_BT_TOP], ['wtn', HH_BT_W], ['ztt', HH_BT_ZTT], ['mj', HH_BT_MJ]],
    sig: HH_BT_SIG, sigStacked: true, unc: HH_BT_UNC, data: HH_BT_DATA,
    marker: 10, errW: 1.5, xerr: true,
    yTitle: { text: 'Events / 30 GeV', size: 24.5, x: 1895, top: 672 },
    xTitle: 'mmc', xTitleY: 1190,
    sample: { x: 1993, y: 710, parts: ['\u03c4', { t: 'had', sub: true }, '\u03c4', { t: 'had', sub: true }, { t: ',', sub: true }, ' b-tagged sample'] },
    atlas: { x: 2188, y: 969 },
    lumi: [{ x: 2202, y: 1021, parts: SQRT_S_LUMI }],
    legend: { cx: 2206, tx: 2236, sw: 43, sh: 20, rows: [750, 779, 807, 837, 866, 893, 923],
              items: ['data', 'sig20', 'mj', 'ztt', 'wtn', 'top', 'uncL'] } }
];

const CHANNEL_TITLES = [
  { text: '\u03bc\u03bc', x: 327 },
  { text: 'e\u03bc', x: 961 },
  { text: '\u03c4lep\u03c4had', x: 1600 },
  { text: '\u03c4had\u03c4had', x: 2209 }
];

// ---------------------------------------------------------------------------
// Text helpers (mixed sub/superscript runs)
// ---------------------------------------------------------------------------
const measureCtx = document.createElement('canvas').getContext('2d');
function fontStr(size, bold, italic) {
  return (italic ? 'italic ' : 'normal ') + (bold ? 'bold ' : 'normal ') + size + 'px ' + FONT;
}
function textW(t, font) { measureCtx.font = font; return measureCtx.measureText(t).width; }

function runs(x, y, parts, S, opt) {
  opt = opt || {};
  const items = [], bars = [];
  let cx = 0, held = 0;
  parts.forEach(p => {
    if (typeof p === 'string') p = { t: p };
    let size = S, dy = 0;
    if (p.sub) { size = Math.round(S * 0.68); dy = S * 0.3; }
    if (p.sup) { size = Math.round(S * 0.65); dy = -S * 0.38; }
    if (p.big) { size = Math.round(S * 1.7); dy = S * 0.05; }
    const font = fontStr(size, opt.bold, opt.italic);
    const w = textW(p.t, font);
    items.push({ t: p.t, font: font, x: cx, dy: dy });
    if (p.over) bars.push({ x1: cx - 1, x2: cx + w + 1, y: dy - S * 0.42 });
    if (p.hold) held = Math.max(held, w);
    else { cx += Math.max(w, held); held = 0; }
  });
  const x0 = opt.align === 'right' ? x - cx : (opt.align === 'center' ? x - cx / 2 : x);
  const kids = items.map(it => ({
    type: 'text', x: it.x, y: it.dy,
    style: { text: it.t, font: it.font, fill: opt.fill || '#000',
             textAlign: 'left', textVerticalAlign: 'middle', align: 'left', verticalAlign: 'middle' }
  }));
  bars.forEach(b => kids.push({ type: 'line', shape: { x1: b.x1, y1: b.y, x2: b.x2, y2: b.y },
                                style: { stroke: opt.fill || '#000', lineWidth: Math.max(1, S / 16) } }));
  return { type: 'group', x: x0, y: y, silent: true, children: kids };
}

// ---------------------------------------------------------------------------
// Axes
// ---------------------------------------------------------------------------
function minorLinear(a) {
  const out = [];
  const n = Math.round((a.max - a.min) / a.minor);
  for (let k = 0; k <= n; k++) out.push(+(a.min + k * a.minor).toFixed(6));
  return out;
}
function minorLog(a) {
  const out = [];
  for (let d = Math.round(Math.log10(a.min)); d < Math.round(Math.log10(a.max)); d++) {
    for (let k = 2; k <= 9; k++) out.push(+(k * Math.pow(10, d)).toPrecision(6));
  }
  return out;
}
function mkAxis(a, gi, pos, ticks, len, showLine, label) {
  return {
    type: a.log ? 'log' : 'value', logBase: 10, gridIndex: gi, position: pos,
    min: a.min, max: a.max,
    axisLine: { show: showLine, onZero: false, lineStyle: { color: '#000', width: 2 } },
    axisTick: { show: true, inside: true, length: len, customValues: ticks, lineStyle: { color: '#000', width: 1.5 } },
    axisLabel: label || { show: false },
    splitLine: { show: false }, minorTick: { show: false }, minorSplitLine: { show: false },
    axisPointer: { show: false }, silent: true
  };
}
function xLabel(P) {
  return { show: true, customValues: P.x.major, fontSize: 25, fontFamily: FONT, color: '#000', margin: 8,
           formatter: v => String(v) };
}
function yLabel(P) {
  if (P.y.log) {
    return {
      show: true, customValues: P.y.major, margin: 6, color: '#000',
      formatter: v => {
        const e = Math.round(Math.log10(v));
        if (e === 0) return '{b|1}';
        if (e === 1) return '{b|10}';
        return '{b|10}{s|' + e + '}';
      },
      rich: {
        b: { fontSize: 25, fontFamily: FONT, color: '#000', lineHeight: 34, verticalAlign: 'bottom' },
        s: { fontSize: 16, fontFamily: FONT, color: '#000', lineHeight: 34, verticalAlign: 'top' }
      }
    };
  }
  return { show: true, customValues: P.y.major, fontSize: 25, fontFamily: FONT, color: '#000', margin: 6,
           formatter: v => String(v) };
}

// ---------------------------------------------------------------------------
// Histogram renderer (stack fills, outlines, signal, uncertainty, data)
// ---------------------------------------------------------------------------
function panelRenderer(P) {
  return function (params, api) {
    const ax = P.x, ay = P.y, E = P.edges, n = E.length - 1;
    const base = ay.log ? ay.min : 0;
    const cyv = v => { let t = v; if (!(t > ay.min)) t = ay.min; if (t > ay.max) t = ay.max; return t; };
    const cxv = v => Math.min(Math.max(v, ax.min), ax.max);
    const pt = (x, y) => api.coord([cxv(x), cyv(y)]);
    const children = [];

    // cumulative layers
    const layers = [];
    let cum = new Array(n).fill(0);
    P.stack.forEach(([key, vals]) => {
      const lo = cum.slice();
      const hi = lo.map((v, i) => v + (vals[i] || 0));
      layers.push({ key: key, lo: lo, hi: hi });
      cum = hi;
    });

    // band fills
    layers.forEach(L => {
      const pts = [];
      for (let i = 0; i < n; i++) { pts.push(pt(E[i], L.hi[i])); pts.push(pt(E[i + 1], L.hi[i])); }
      for (let i = n - 1; i >= 0; i--) { pts.push(pt(E[i + 1], L.lo[i])); pts.push(pt(E[i], L.lo[i])); }
      children.push({ type: 'polygon', shape: { points: pts }, style: { fill: STYLE[L.key].fill, stroke: null } });
    });

    // outlines, upper layers first so lower edges stay on top
    for (let k = layers.length - 1; k >= 0; k--) {
      const L = layers[k];
      const pts = [pt(E[0], base)];
      for (let i = 0; i < n; i++) { pts.push(pt(E[i], L.hi[i])); pts.push(pt(E[i + 1], L.hi[i])); }
      pts.push(pt(E[n], base));
      children.push({ type: 'polyline', shape: { points: pts }, style: { stroke: STYLE[L.key].stroke, lineWidth: 2, fill: null } });
    }

    // signal
    if (P.sig) {
      let i0 = 0, i1 = n - 1;
      const sb = P.sigStacked ? cum : new Array(n).fill(0);
      if (P.sigStacked) {
        i0 = P.sig.findIndex(v => v > 0);
        for (let i = n - 1; i >= 0; i--) { if (P.sig[i] > 0) { i1 = i; break; } }
      }
      if (i0 >= 0) {
        const pts = [pt(E[i0], sb[i0])];
        for (let i = i0; i <= i1; i++) {
          const v = sb[i] + P.sig[i];
          pts.push(pt(E[i], v)); pts.push(pt(E[i + 1], v));
        }
        pts.push(pt(E[i1 + 1], sb[i1]));
        children.push({ type: 'polyline', shape: { points: pts }, style: { stroke: SIG_COLOR, lineWidth: 2, fill: null } });
      }
    }

    // background uncertainty band
    if (P.unc) {
      for (let i = 0; i < n; i++) {
        const u = P.unc[i];
        if (!(u > 0)) continue;
        const a = pt(E[i], cum[i] + u), b = pt(E[i + 1], cum[i] - u);
        children.push({ type: 'rect', shape: { x: a[0], y: a[1], width: b[0] - a[0], height: b[1] - a[1] },
                        style: { fill: UNC_FILL, stroke: null } });
      }
    }

    // data points with Poisson-style error bars
    const lines = [], dots = [];
    for (let i = 0; i < n; i++) {
      const obs = P.data[i];
      if (obs == null || (ay.log && obs <= 0)) continue;
      const xc = (E[i] + E[i + 1]) / 2;
      const up = obs + 1 + Math.sqrt(obs + 0.75);
      const dn = obs > 0 ? obs - Math.sqrt(obs - 0.25) : 0;
      const c = pt(xc, obs), pu = pt(xc, up), pd = pt(xc, dn);
      lines.push({ type: 'line', shape: { x1: c[0], y1: pu[1], x2: c[0], y2: pd[1] }, style: { stroke: '#000', lineWidth: P.errW } });
      if (P.xerr) {
        const l = pt(E[i], obs), r = pt(E[i + 1], obs);
        lines.push({ type: 'line', shape: { x1: l[0], y1: c[1], x2: r[0], y2: c[1] }, style: { stroke: '#000', lineWidth: P.errW } });
      }
      dots.push({ type: 'circle', shape: { cx: c[0], cy: c[1], r: P.marker / 2 }, style: { fill: '#000' } });
    }
    return { type: 'group', children: children.concat(lines, dots) };
  };
}

// ---------------------------------------------------------------------------
// Assemble option
// ---------------------------------------------------------------------------
const grids = [], xAxes = [], yAxes = [], series = [], graphics = [];

CHANNEL_TITLES.forEach(t => {
  graphics.push({ type: 'text', x: t.x, y: 71, silent: true,
    style: { text: t.text, font: 'normal normal 50px ' + FONT, fill: TITLE_COLOR,
             textAlign: 'center', textVerticalAlign: 'bottom', align: 'center', verticalAlign: 'bottom' } });
});

PANELS.forEach((P, p) => {
  const [gl, gt, gw, gh] = P.grid;
  grids.push({ left: gl, top: gt, width: gw, height: gh, containLabel: false, show: false });
  const xMinor = minorLinear(P.x);
  const yMinor = P.y.log ? minorLog(P.y) : minorLinear(P.y);
  xAxes.push(
    mkAxis(P.x, p, 'bottom', P.x.major, 13, true, xLabel(P)),
    mkAxis(P.x, p, 'bottom', xMinor, 7, false, null),
    mkAxis(P.x, p, 'top', P.x.major, 13, true, null),
    mkAxis(P.x, p, 'top', xMinor, 7, false, null));
  yAxes.push(
    mkAxis(P.y, p, 'left', P.y.major, 14, true, yLabel(P)),
    mkAxis(P.y, p, 'left', yMinor, 7, false, null),
    mkAxis(P.y, p, 'right', P.y.major, 14, true, null),
    mkAxis(P.y, p, 'right', yMinor, 7, false, null));

  series.push({
    type: 'custom', coordinateSystem: 'cartesian2d', xAxisIndex: 4 * p, yAxisIndex: 4 * p,
    data: [[(P.x.min + P.x.max) / 2, P.y.log ? 1 : (P.y.min + P.y.max) / 2]],
    renderItem: panelRenderer(P), clip: true, silent: true, animation: false, z: 2
  });

  // axis titles
  graphics.push({ type: 'text', x: P.yTitle.x, y: P.yTitle.top, rotation: Math.PI / 2, silent: true,
    style: { text: P.yTitle.text, font: fontStr(P.yTitle.size), fill: '#000',
             textAlign: 'right', textVerticalAlign: 'middle', align: 'right', verticalAlign: 'middle' } });
  const right = gl + gw;
  if (P.xTitle === 'mumu') {
    graphics.push(runs(right, P.xTitleY, ['m', { t: '\u03bc\u03bc', sub: true }, ' [GeV]'], 26, { align: 'right' }));
  } else {
    graphics.push(runs(right, P.xTitleY, ['m', { t: 'MMC', sup: true, hold: true }, { t: '\u03c4\u03c4', sub: true }, ' [GeV]'], 26, { align: 'right' }));
  }

  // in-frame labels
  graphics.push(runs(P.sample.x, P.sample.y, P.sample.parts, 22));
  graphics.push(runs(P.atlas.x, P.atlas.y, ['ATLAS'], 23, { bold: true, italic: true }));
  P.lumi.forEach(l => graphics.push(runs(l.x, l.y, l.parts, 20)));

  // legend
  const L = P.legend;
  L.items.forEach((key, k) => {
    const y = L.rows[k];
    if (key === 'data') {
      graphics.push({ type: 'circle', silent: true, shape: { cx: L.cx, cy: y, r: P.marker / 2 }, style: { fill: '#000' } });
    } else if (key === 'sig40' || key === 'sig20') {
      graphics.push({ type: 'line', silent: true, shape: { x1: L.cx - L.sw / 2, y1: y, x2: L.cx + L.sw / 2, y2: y },
                      style: { stroke: SIG_COLOR, lineWidth: 2 } });
    } else if (key === 'uncL' || key === 'uncU') {
      graphics.push({ type: 'rect', silent: true, shape: { x: L.cx - L.sw / 2, y: y - L.sh / 2, width: L.sw, height: L.sh },
                      style: { fill: UNC_FILL, stroke: null } });
    } else {
      graphics.push({ type: 'rect', silent: true, shape: { x: L.cx - L.sw / 2, y: y - L.sh / 2, width: L.sw, height: L.sh },
                      style: { fill: STYLE[key].fill, stroke: STYLE[key].stroke, lineWidth: 2 } });
    }
    graphics.push(runs(L.tx, y, LEGEND_LABELS[key], 17));
  });
});

const chart = echarts.init(document.getElementById('chart'), null, { renderer: 'canvas', width: 2454, height: 1209 });
chart.setOption({
  backgroundColor: '#ffffff',
  animation: false,
  grid: grids,
  xAxis: xAxes,
  yAxis: yAxes,
  series: series,
  graphic: { elements: graphics.map(g => Object.assign({ z: 10 }, g)) }
});
</script>
</body>
</html>
